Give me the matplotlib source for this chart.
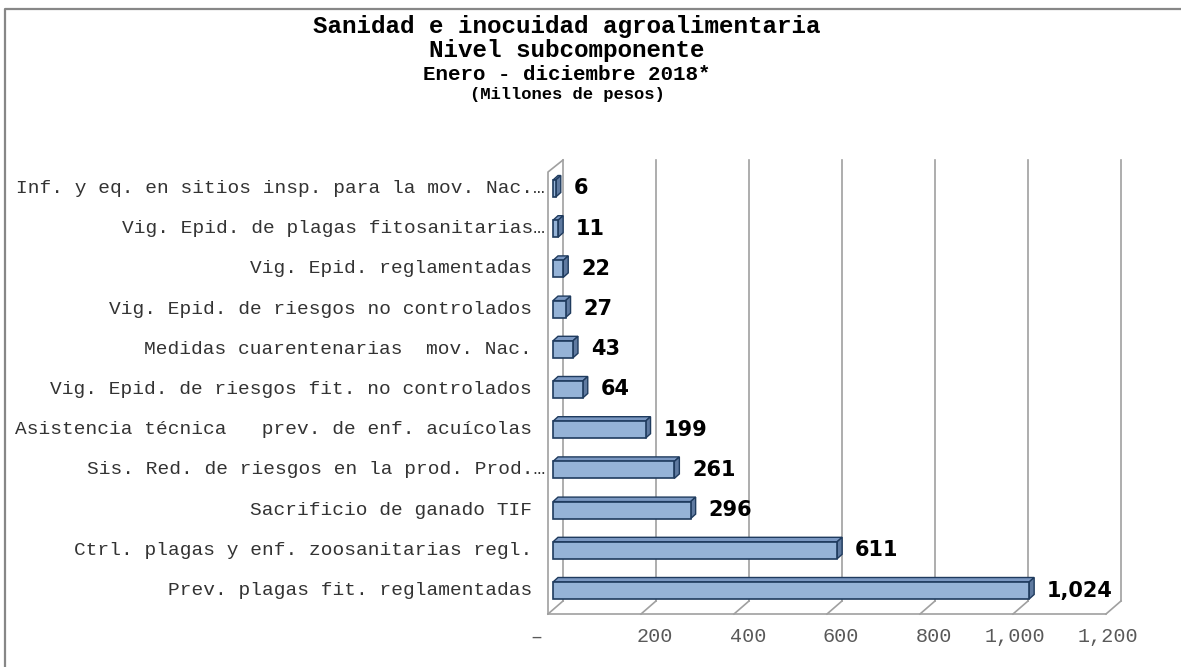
import matplotlib
matplotlib.use("Agg")
import matplotlib.pyplot as plt
from matplotlib.patches import Polygon
from matplotlib.lines import Line2D

# ---------------- data ----------------
categories = [
    "Prev. plagas fit. reglamentadas",
    "Ctrl. plagas y enf. zoosanitarias regl.",
    "Sacrificio de ganado TIF",
    "Sis. Red. de riesgos en la prod. Prod.…",
    "Asistencia técnica   prev. de enf. acuícolas",
    "Vig. Epid. de riesgos fit. no controlados",
    "Medidas cuarentenarias  mov. Nac.",
    "Vig. Epid. de riesgos no controlados",
    "Vig. Epid. reglamentadas",
    "Vig. Epid. de plagas fitosanitarias…",
    "Inf. y eq. en sitios insp. para la mov. Nac.…",
]
values = [1024, 611, 296, 261, 199, 64, 43, 27, 22, 11, 6]
x_ticks = [0, 200, 400, 600, 800, 1000, 1200]
x_tick_labels = ["–", "200", "400", "600", "800", "1,000", "1,200"]
title_lines = [
    "Sanidad e inocuidad agroalimentaria",
    "Nivel subcomponente",
    "Enero - diciembre 2018*",
    "(Millones de pesos)",
]

# ---------------- layout (pixels) ----------------
W, H = 1181, 667
DPI = 100
fig = plt.figure(figsize=(W / DPI, H / DPI), dpi=DPI)
fig.patch.set_facecolor("white")

AX_L, AX_R = 548, 1106          # front floor edge x for 0 and 1200
AX_B, AX_T = 614, 160            # front floor y, back wall top y
CAT0_PX, CAT_STEP = 590.5, 40.2  # centre of first bar, spacing

XMAX = x_ticks[-1]
KX = (AX_R - AX_L) / XMAX        # px per unit
y_lo = -(AX_B - CAT0_PX) / CAT_STEP
y_hi = (CAT0_PX - AX_T) / CAT_STEP

ax = fig.add_axes([AX_L / W, 1 - AX_B / H, (AX_R - AX_L) / W, (AX_B - AX_T) / H])
ax.set_xlim(0, XMAX)
ax.set_ylim(y_lo, y_hi)
ax.axis("off")

def px_x(p):
    return p / KX

def px_y(p):
    return p / CAT_STEP

GRID = "#a0a0a0"
DXB, DYB = px_x(15), px_y(13)          # depth of back wall
front_top = (CAT0_PX - 172) / CAT_STEP

# back wall gridlines
for t in x_ticks:
    ax.add_line(Line2D([t + DXB, t + DXB], [y_lo + DYB, y_hi], color=GRID, lw=1.2,
                       clip_on=False, zorder=1))
# floor front edge and diagonals
ax.add_line(Line2D([0, XMAX], [y_lo, y_lo], color=GRID, lw=1.2, clip_on=False, zorder=1))
for t in x_ticks:
    ax.add_line(Line2D([t, t + DXB], [y_lo, y_lo + DYB], color=GRID, lw=1.2,
                       clip_on=False, zorder=1))
# left wall
ax.add_line(Line2D([0, 0, DXB], [y_lo, front_top, y_hi], color=GRID, lw=1.2,
                   clip_on=False, zorder=1))

# ---------------- bars ----------------
FACE = "#95b3d7"
TOP = "#7b98c2"
SIDE = "#5f7aa0"
EDGE = "#1f3b5e"
BAR_H = px_y(17)
BX = px_x(5)                      # front face shift from front plane
BDX, BDY = px_x(5), px_y(4.5)     # bar depth

for i, v in enumerate(values):
    y0, y1 = i - BAR_H / 2, i + BAR_H / 2
    x0, x1 = BX, BX + v
    top = Polygon([(x0, y1), (x1, y1), (x1 + BDX, y1 + BDY), (x0 + BDX, y1 + BDY)],
                  closed=True, fc=TOP, ec=EDGE, lw=1.0, clip_on=False, zorder=3)
    side = Polygon([(x1, y0), (x1, y1), (x1 + BDX, y1 + BDY), (x1 + BDX, y0 + BDY)],
                   closed=True, fc=SIDE, ec=EDGE, lw=1.0, clip_on=False, zorder=3)
    ax.add_patch(top)
    ax.add_patch(side)

bars = ax.barh(range(len(values)), values, height=BAR_H, left=BX, color=FACE,
               edgecolor=EDGE, linewidth=1.2, zorder=4)
for b in bars:
    b.set_clip_on(False)

# data labels
for i, v in enumerate(values):
    ax.text(BX + v + BDX + px_x(13), i, f"{v:,}", ha="left", va="center",
            fontsize=15, fontweight="bold", family="DejaVu Sans", color="black",
            clip_on=False, zorder=5)

# category labels
for i, lab in enumerate(categories):
    end_px = 3 if lab.endswith("…") else 16
    ax.text(-px_x(end_px), i, lab, ha="right", va="center", fontsize=14,
            family="Liberation Mono", color="#333333", clip_on=False)

# x tick labels (accounting style: numbers right-aligned, dash before zero)
y_lab = -(637 - CAT0_PX) / CAT_STEP
for t, lab in zip(x_ticks, x_tick_labels):
    shift = -6 if t == 0 else 32
    ax.text(t + px_x(shift), y_lab, lab, ha="right", va="center", fontsize=14.5,
            family="Liberation Mono", color="#595959", clip_on=False)

# ---------------- titles ----------------
title_y = [27, 51, 74, 95]
title_size = [17.5, 17.5, 15.0, 12.3]
for txt, yy, fs in zip(title_lines, title_y, title_size):
    fig.text(567 / W, 1 - yy / H, txt, ha="center", va="center", fontsize=fs,
             fontweight="bold", family="Liberation Mono", color="black")

# outer frame
fig.add_artist(Line2D([5 / W, 5 / W, 1], [0, 1 - 8.5 / H, 1 - 8.5 / H],
                      transform=fig.transFigure, color="#878787", lw=1.6))

fig.savefig("out.png", dpi=DPI)
